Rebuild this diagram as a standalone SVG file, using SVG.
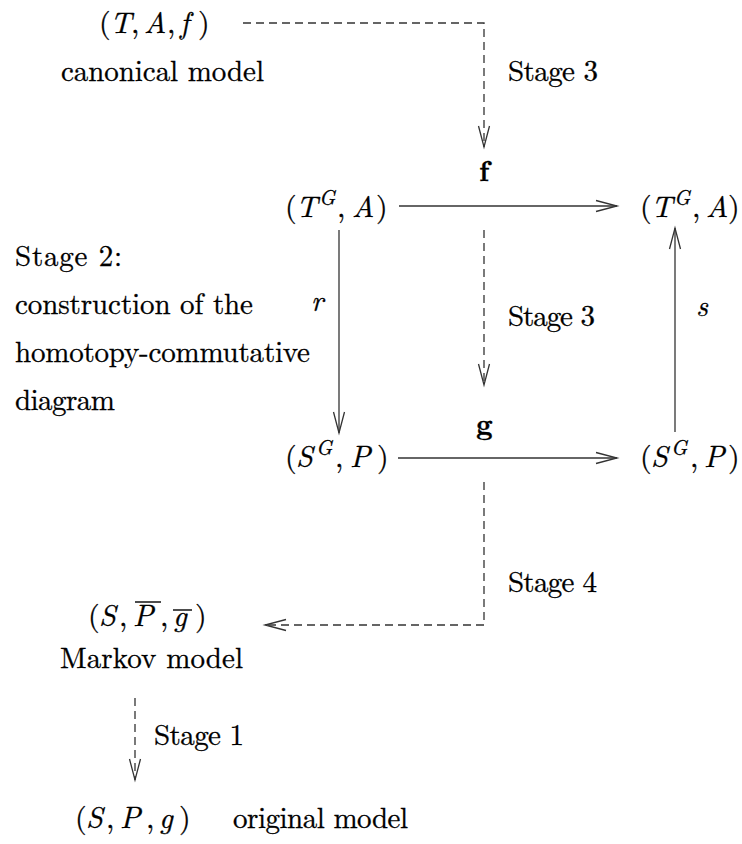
<svg xmlns="http://www.w3.org/2000/svg" width="742" height="844" viewBox="0 0 742 844">
<style>
text{font-size:29px;fill:#000;stroke:#000;stroke-width:0.3}
.m{font-size:30px}
.i{font-style:italic}
.b{font-weight:bold}
.sup{font-size:21px;font-style:italic}
.ln{fill:none;stroke:#333;stroke-width:1.3}
.dash{stroke-dasharray:8 5}
.ov{stroke:#000;stroke-width:1.4}
</style>
<defs>
<marker id="ah" markerUnits="userSpaceOnUse" markerWidth="30" markerHeight="16" viewBox="-22 -8 24 16" refX="0" refY="0" orient="auto">
<path d="M-21,-5.5 L0,0 L-21,5.5" fill="none" stroke="#333" stroke-width="1.3" stroke-dasharray="none"/>
</marker>
</defs>
<g id="connectors">
<path class="ln dash" d="M243,23 H484 V147" marker-end="url(#ah)"/>
<path class="ln" d="M399,206 H617" marker-end="url(#ah)"/>
<path class="ln" d="M339,230 V433" marker-end="url(#ah)"/>
<path class="ln dash" d="M484,230 V385" marker-end="url(#ah)"/>
<path class="ln" d="M675,432 V228" marker-end="url(#ah)"/>
<path class="ln" d="M398,458 H617" marker-end="url(#ah)"/>
<path class="ln dash" d="M484,482 V625 H265" marker-end="url(#ah)"/>
<path class="ln dash" d="M135,698 V780" marker-end="url(#ah)"/>
</g>
<g font-family="Latin Modern Roman, Liberation Serif, serif">
<g id="canonical">
<text class="m" y="33"><tspan x="99">(</tspan><tspan class="i" x="110">T</tspan><tspan x="131">,</tspan><tspan class="i" x="144">A</tspan><tspan x="167">,</tspan><tspan class="i" x="180">f</tspan><tspan x="198">)</tspan></text>
<text x="61" y="81" textLength="203" lengthAdjust="spacing">canonical model</text>
</g>
<g id="label-stage3-top"><text x="508" y="81" textLength="90" lengthAdjust="spacing">Stage 3</text></g>
<g id="label-f"><text x="479" y="181" class="b">f</text></g>
<g id="TGA-left"><text class="m" y="217"><tspan x="285">(</tspan><tspan class="i" x="296">T</tspan><tspan class="sup" x="319" y="205">G</tspan><tspan x="337" y="217">,</tspan><tspan class="i" x="352">A</tspan><tspan x="376">)</tspan></text></g>
<g id="TGA-right"><text class="m" y="217"><tspan x="640">(</tspan><tspan class="i" x="651">T</tspan><tspan class="sup" x="674" y="205">G</tspan><tspan x="692" y="217">,</tspan><tspan class="i" x="706">A</tspan><tspan x="728">)</tspan></text></g>
<g id="label-r"><text x="311" y="311" class="i">r</text></g>
<g id="label-stage3-mid"><text x="508" y="326" textLength="87" lengthAdjust="spacing">Stage 3</text></g>
<g id="label-s"><text x="696" y="316" class="i">s</text></g>
<g id="stage2">
<text x="15" y="266" textLength="107" lengthAdjust="spacing">Stage 2:</text>
<text x="15" y="314" textLength="238" lengthAdjust="spacing">construction of the</text>
<text x="15" y="362" textLength="295" lengthAdjust="spacing">homotopy-commutative</text>
<text x="15" y="410" textLength="100" lengthAdjust="spacing">diagram</text>
</g>
<g id="label-g"><text x="476" y="434" class="b">g</text></g>
<g id="SGP-left"><text class="m" y="467"><tspan x="285">(</tspan><tspan class="i" x="296">S</tspan><tspan class="sup" x="316" y="455">G</tspan><tspan x="335" y="467">,</tspan><tspan class="i" x="350">P</tspan><tspan x="377">)</tspan></text></g>
<g id="SGP-right"><text class="m" y="467"><tspan x="640">(</tspan><tspan class="i" x="651">S</tspan><tspan class="sup" x="671" y="455">G</tspan><tspan x="690" y="467">,</tspan><tspan class="i" x="704">P</tspan><tspan x="728">)</tspan></text></g>
<g id="label-stage4"><text x="508" y="592" textLength="89" lengthAdjust="spacing">Stage 4</text></g>
<g id="markov">
<text class="m" y="626"><tspan x="88">(</tspan><tspan class="i" x="99">S</tspan><tspan x="119">,</tspan><tspan class="i" x="133">P</tspan><tspan x="160">,</tspan><tspan class="i" x="173">g</tspan><tspan x="195">)</tspan></text>
<line class="ov" x1="135" y1="602" x2="161" y2="602"/>
<line class="ov" x1="173" y1="610" x2="192" y2="610"/>
<text x="60" y="668" textLength="183" lengthAdjust="spacing">Markov model</text>
</g>
<g id="label-stage1"><text x="154" y="745" textLength="90" lengthAdjust="spacing">Stage 1</text></g>
<g id="original">
<text class="m" y="828"><tspan x="75">(</tspan><tspan class="i" x="86">S</tspan><tspan x="106">,</tspan><tspan class="i" x="120">P</tspan><tspan x="146">,</tspan><tspan class="i" x="159">g</tspan><tspan x="179">)</tspan></text>
<text x="233" y="828" textLength="175" lengthAdjust="spacing">original model</text>
</g>
</g>
</svg>
